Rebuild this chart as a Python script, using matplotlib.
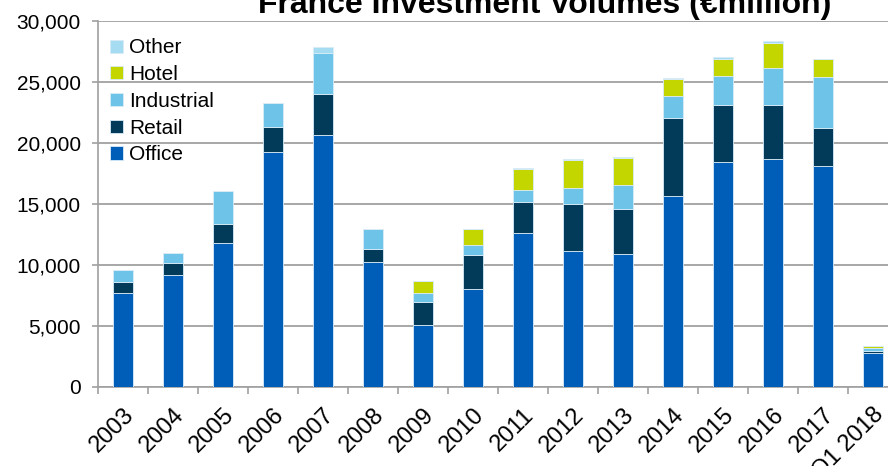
import numpy as np
import matplotlib
matplotlib.use("Agg")
import matplotlib.pyplot as plt
from matplotlib.ticker import FuncFormatter

plt.rcParams['font.family'] = ['Liberation Sans', 'DejaVu Sans']

#---------------- data -----------------#
years = ['2003', '2004', '2005', '2006', '2007', '2008', '2009', '2010',
         '2011', '2012', '2013', '2014', '2015', '2016', '2017', 'Q1 2018']
office     = [7680, 9150, 11780, 19290, 20660, 10250, 5110, 8000,
              12650, 11120, 10900, 15630, 18420, 18720, 18090, 2760]
retail     = [930, 1010, 1580, 2020, 3360, 1090, 1885, 2850,
              2510, 3910, 3690, 6420, 4690, 4390, 3140, 190]
industrial = [980, 850, 2680, 1970, 3330, 1610, 685, 820,
              1010, 1310, 1930, 1830, 2410, 3040, 4150, 220]
hotel      = [0, 0, 0, 0, 0, 0, 980, 1280,
              1700, 2290, 2280, 1340, 1340, 2070, 1510, 160]
other      = [0, 0, 0, 0, 490, 0, 0, 0,
              50, 50, 50, 130, 160, 140, 0, 60]

series = [('Office', office, '#005EB8'),
          ('Retail', retail, '#023A5A'),
          ('Industrial', industrial, '#6EC4E8'),
          ('Hotel', hotel, '#C4D600'),
          ('Other', other, '#A6DCF2')]

#---------------- plot -----------------#
fig = plt.figure(figsize=(8.88, 4.66), dpi=100)
ax = fig.add_axes([98/888, 79/466, 800/888, 366/466])

x = np.arange(len(years))
bottom = np.zeros(len(years))
handles = []
for name, vals, col in series:
    b = ax.bar(x, vals, 0.4, bottom=bottom, color=col, edgecolor='#d8ebf7',
               linewidth=0.6, label=name, zorder=3)
    handles.append(b)
    bottom = bottom + np.array(vals)

ax.set_ylim(0, 30000)
ax.set_xlim(-0.5, len(years) - 0.5)
ax.set_yticks(np.arange(0, 30001, 5000))
ax.yaxis.set_major_formatter(FuncFormatter(lambda v, p: '{:,.0f}'.format(v)))
ax.grid(axis='y', color='#a0a0a0', linewidth=1.3, zorder=0)

# ticks between categories, labels under bars
ax.set_xticks(np.arange(len(years) + 1) - 0.5)
ax.set_xticklabels([])
ax.set_xticks(x, minor=True)
ax.set_xticklabels(years, minor=True, rotation=45, ha='right',
                   rotation_mode='anchor', fontsize=17)
ax.tick_params(axis='x', which='minor', length=0, pad=12)
ax.tick_params(axis='x', which='major', length=5, color='#a0a0a0', width=1.2)
ax.tick_params(axis='y', length=4.5, color='#a0a0a0', width=1.2, labelsize=15, pad=8)

for s in ['top', 'right']:
    ax.spines[s].set_visible(False)
for s in ['left', 'bottom']:
    ax.spines[s].set_color('#a0a0a0')
    ax.spines[s].set_linewidth(1.2)

ax.legend(handles[::-1], [h.get_label() for h in handles[::-1]],
          loc='upper left', bbox_to_anchor=(0.005, 0.975), frameon=False,
          fontsize=15, handlelength=0.6, handleheight=0.6, handletextpad=0.3,
          labelspacing=0.37, borderaxespad=0)

fig.text(545/888, 1 - 13/466, 'France Investment Volumes (\u20acmillion)',
         ha='center', va='baseline', fontsize=23, fontweight='bold')

plt.savefig('out.png', dpi=100)
